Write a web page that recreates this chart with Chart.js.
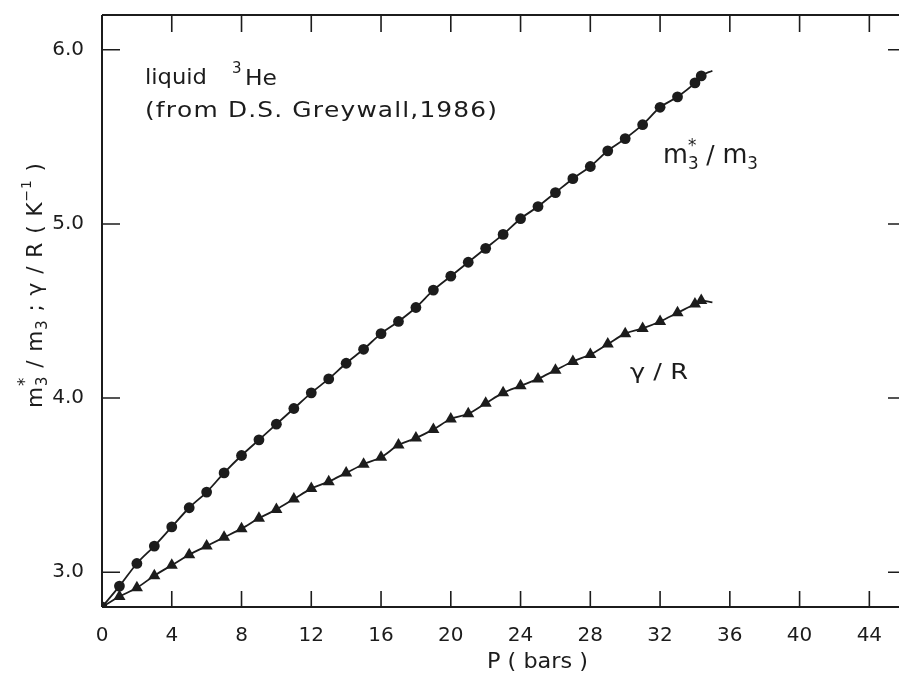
<!DOCTYPE html>
<html>
<head>
<meta charset="utf-8">
<script src="https://cdn.jsdelivr.net/npm/chart.js@4/dist/chart.umd.min.js"></script>
<style>
  html, body { margin: 0; padding: 0; background: #fff; overflow: hidden; }
  canvas { display: block; }
</style>
</head>
<body>
<canvas id="c" width="899" height="674" style="width:899px;height:674px"></canvas>
<script>
// ---- data ----
const pressure = [0,1,2,3,4,5,6,7,8,9,10,11,12,13,14,15,16,17,18,19,20,21,22,23,24,25,26,27,28,29,30,31,32,33,34,34.36];
const effMass  = [2.80,2.92,3.05,3.15,3.26,3.37,3.46,3.57,3.67,3.76,3.85,3.94,4.03,4.11,4.20,4.28,4.37,4.44,4.52,4.62,4.70,4.78,4.86,4.94,5.03,5.10,5.18,5.26,5.33,5.42,5.49,5.57,5.67,5.73,5.81,5.85];
const gammaR   = [2.80,2.86,2.91,2.98,3.04,3.10,3.15,3.20,3.25,3.31,3.36,3.42,3.48,3.52,3.57,3.62,3.66,3.73,3.77,3.82,3.88,3.91,3.97,4.03,4.07,4.11,4.16,4.21,4.25,4.31,4.37,4.40,4.44,4.49,4.54,4.56];
const fitEndP = 35;
const effMassEnd = 5.88;
const gammaREnd = 4.55;
const xTicks = [0,4,8,12,16,20,24,28,32,36,40,44];
const yTicks = [3.0,4.0,5.0,6.0];

const INK = '#1c1c1c';
const FONT = '"DejaVu Sans", "Liberation Sans", sans-serif';

function series(ys, endY) {
  const pts = pressure.map((p, i) => ({x: p, y: ys[i]}));
  pts.push({x: fitEndP, y: endY});
  return pts;
}
const lastIdx = pressure.length; // fit-end point, drawn without a marker

// rich text helper: segments with size / vertical offset / stacked ("back")
function layoutRich(ctx, segs, spacing) {
  let x = 0, prevStart = 0;
  const pieces = [];
  for (const seg of segs) {
    ctx.font = seg.size + 'px ' + FONT;
    const start = seg.back ? prevStart : x;
    let cx = start;
    for (const ch of seg.t) {
      pieces.push({ch, x: cx, dy: seg.dy || 0, size: seg.size});
      cx += ctx.measureText(ch).width + spacing;
    }
    if (!seg.back) { prevStart = start; x = cx; } else { x = Math.max(x, cx); }
  }
  return {pieces, width: x - spacing};
}
function drawRich(ctx, segs, x, y, target, sp) {
  const l = layoutRich(ctx, segs, sp || 0);
  const k = target ? target / l.width : 1;
  ctx.save();
  ctx.translate(x, y);
  ctx.scale(k, 1);
  ctx.fillStyle = INK;
  ctx.textBaseline = 'alphabetic';
  ctx.textAlign = 'left';
  for (const p of l.pieces) {
    ctx.font = p.size + 'px ' + FONT;
    ctx.fillText(p.ch, p.x, p.dy);
  }
  ctx.restore();
}

const decor = {
  id: 'decor',
  afterDatasetsDraw(chart) {
    const ctx = chart.ctx;
    const a = chart.chartArea;
    const xs = chart.scales.x, ys = chart.scales.y;
    ctx.save();
    ctx.strokeStyle = INK;
    ctx.lineWidth = 2;
    ctx.beginPath();
    ctx.moveTo(a.left, a.top); ctx.lineTo(a.right, a.top);
    ctx.moveTo(a.left, a.top); ctx.lineTo(a.left, a.bottom);
    ctx.moveTo(a.left, a.bottom); ctx.lineTo(a.right, a.bottom);
    ctx.stroke();
    ctx.lineWidth = 1.6;
    ctx.beginPath();
    for (const t of xs.ticks) {
      const px = xs.getPixelForValue(t.value);
      ctx.moveTo(px, a.bottom); ctx.lineTo(px, a.bottom - 16);
      ctx.moveTo(px, a.top); ctx.lineTo(px, a.top + 17);
    }
    for (const t of ys.ticks) {
      const py = ys.getPixelForValue(t.value);
      ctx.moveTo(a.left, py); ctx.lineTo(a.left + 18, py);
      ctx.moveTo(a.right, py); ctx.lineTo(a.right - 11, py);
    }
    ctx.stroke();

    // annotation texts
    drawRich(ctx, [{t:'liquid', size:22}], 145, 84, 62);
    drawRich(ctx, [{t:'3', size:15}], 232, 73, 0);
    drawRich(ctx, [{t:'He', size:22}], 245, 85, 32);
    drawRich(ctx, [{t:'(from D.S. Greywall,1986)', size:22}], 145, 117, 352, 1);

    drawRich(ctx, [
      {t:'m', size:26}, {t:'3', size:17, dy:6}, {t:'*', size:17, dy:-12, back:true},
      {t:' / ', size:25}, {t:'m', size:26}, {t:'3', size:17, dy:6}
    ], 663, 163, 95);

    drawRich(ctx, [{t:'γ / R', size:22}], 630, 379, 58);

    // x axis title
    drawRich(ctx, [{t:'P ( bars )', size:22}], 487, 668, 101);

    // y axis title (rotated)
    ctx.save();
    ctx.translate(42, 408);
    ctx.rotate(-Math.PI / 2);
    drawRich(ctx, [
      {t:'m', size:22}, {t:'3', size:15, dy:5}, {t:'*', size:17, dy:-12, back:true},
      {t:' / ', size:22}, {t:'m', size:22}, {t:'3', size:15, dy:5},
      {t:' ; γ / R ( K', size:22}, {t:'−1', size:14, dy:-11}, {t:' )', size:22}
    ], 0, 0, 245, 1);
    ctx.restore();
    ctx.restore();
  }
};

new Chart(document.getElementById('c'), {
  type: 'scatter',
  data: {
    datasets: [
      {
        label: 'm3*/m3',
        data: series(effMass, effMassEnd),
        showLine: true,
        cubicInterpolationMode: 'monotone',
        borderColor: INK,
        borderWidth: 1.8,
        pointStyle: 'circle',
        pointRadius: c => (c.dataIndex === lastIdx ? 0 : 5.4),
        pointBackgroundColor: INK,
        pointBorderColor: INK,
        pointBorderWidth: 0
      },
      {
        label: 'γ/R',
        data: series(gammaR, gammaREnd),
        showLine: true,
        cubicInterpolationMode: 'monotone',
        borderColor: INK,
        borderWidth: 1.8,
        pointStyle: 'triangle',
        pointRadius: c => (c.dataIndex === lastIdx ? 0 : 7),
        pointBackgroundColor: INK,
        pointBorderColor: INK,
        pointBorderWidth: 0
      }
    ]
  },
  options: {
    responsive: false,
    animation: false,
    events: [],
    layout: { autoPadding: false, padding: { top: 15, right: 0, left: 0, bottom: 0 } },
    plugins: { legend: { display: false }, tooltip: { enabled: false } },
    scales: {
      x: {
        type: 'linear', min: 0, max: 45.7,
        afterBuildTicks: s => { s.ticks = xTicks.map(v => ({value: v})); },
        afterFit: s => { s.height = 67; s.paddingLeft = 0; s.paddingRight = 0; },
        grid: { display: false }, border: { display: false },
        ticks: { color: INK, padding: 9, font: { family: FONT, size: 20 }, callback: v => String(v), maxRotation: 0, autoSkip: false }
      },
      y: {
        type: 'linear', min: 2.8, max: 6.2,
        afterBuildTicks: s => { s.ticks = yTicks.map(v => ({value: v})); },
        afterFit: s => { s.width = 102; s.paddingTop = 0; s.paddingBottom = 0; },
        grid: { display: false }, border: { display: false },
        ticks: { color: INK, padding: 10, font: { family: FONT, size: 20 }, callback: v => v.toFixed(1), autoSkip: false }
      }
    }
  },
  plugins: [decor]
});
</script>
</body>
</html>
